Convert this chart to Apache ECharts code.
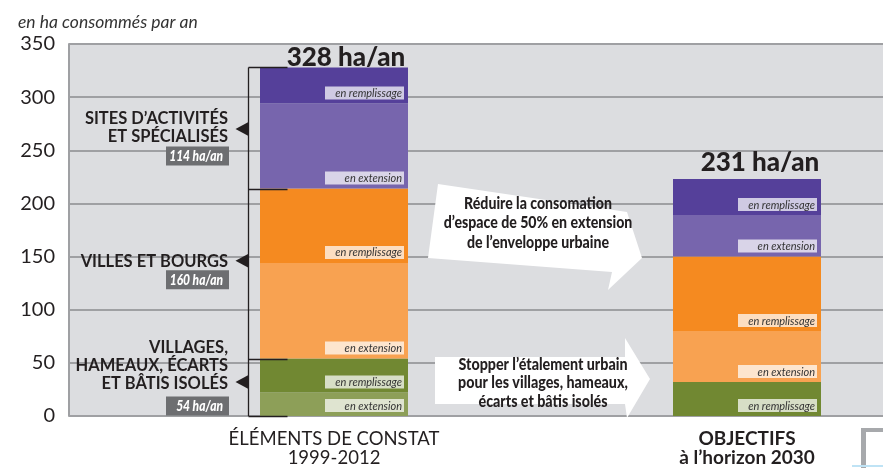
<!DOCTYPE html>
<html>
<head>
<meta charset="utf-8">
<script src="https://cdn.jsdelivr.net/npm/echarts@6/dist/echarts.min.js"></script>
<style>
html, body { margin: 0; padding: 0; background: #fff; }
#chart { width: 883px; height: 468px; }
</style>
</head>
<body>
<div id="chart"></div>
<script>
// --- data (stack order: bottom -> top) ---
const categories = ['ÉLÉMENTS DE CONSTAT|1999-2012', 'OBJECTIFS|à l’horizon 2030'];
const yTicks = [0, 50, 100, 150, 200, 250, 300, 350];
const villagesExtension = [22, 0];
const villagesRemplissage = [32, 32];
const villesExtension = [90, 48];
const villesRemplissage = [70, 70];
const sitesExtension = [80, 39];
const sitesRemplissage = [34, 34];
const totals = ['328 ha/an', '231 ha/an'];
const groupNames = ['SITES D’ACTIVITÉS\nET SPÉCIALISÉS', 'VILLES ET BOURGS', 'VILLAGES,\nHAMEAUX, ÉCARTS\nET BÂTIS ISOLÉS'];
const groupTotals = ['114 ha/an', '160 ha/an', '54 ha/an'];
const groupMarkers = [270, 146, 32];

const FONT = 'Lato, "Noto Sans", sans-serif';
const DARK = '#231f20';

const layers = [
  { name: 'Villages en extension', data: villagesExtension, color: '#8d9f58', text: 'en extension' },
  { name: 'Villages en remplissage', data: villagesRemplissage, color: '#718832', text: 'en remplissage' },
  { name: 'Villes en extension', data: villesExtension, color: '#f8a251', text: 'en extension' },
  { name: 'Villes en remplissage', data: villesRemplissage, color: '#f58a20', text: 'en remplissage' },
  { name: 'Sites en extension', data: sitesExtension, color: '#7765ad', text: 'en extension' },
  { name: 'Sites en remplissage', data: sitesRemplissage, color: '#55409a', text: 'en remplissage' }
];

const chart = echarts.init(document.getElementById('chart'));

const series = layers.map(l => ({
  name: l.name,
  type: 'bar',
  stack: 'conso',
  xAxisIndex: 1,
  yAxisIndex: 1,
  barWidth: 148,
  clip: false,
  silent: true,
  itemStyle: { color: l.color },
  label: {
    show: true,
    position: 'insideBottomRight',
    distance: 4,
    formatter: l.text,
    fontFamily: FONT,
    fontStyle: 'italic',
    fontSize: 11,
    color: '#333',
    backgroundColor: 'rgba(255,255,255,0.72)',
    width: 75,
    align: 'right',
    padding: [1, 2, 0, 2],
    lineHeight: 12
  },
  data: l.data.map(v => v > 0 ? v : { value: v, label: { show: false } })
}));

series.push({
  name: 'total',
  type: 'bar',
  stack: 'conso',
  xAxisIndex: 1,
  yAxisIndex: 1,
  barWidth: 148,
  clip: false,
  silent: true,
  itemStyle: { color: 'transparent' },
  label: {
    show: true,
    position: 'top',
    distance: 2,
    formatter: p => totals[p.dataIndex],
    fontFamily: FONT,
    fontWeight: 900,
    fontSize: 26,
    color: DARK
  },
  data: [
    { value: 0, label: { offset: [12, 5] } },
    { value: 0, label: { offset: [13, -1] } }
  ]
});

// bar centres sit on the two ends of the category axis (boundaryGap false)
chart.setOption({
  animation: false,
  backgroundColor: '#fff',
  title: {
    text: 'en ha consommés par an',
    left: 13,
    top: 8,
    textStyle: { fontFamily: FONT, fontStyle: 'italic', fontWeight: 'normal', fontSize: 17.5, color: '#333' }
  },
  grid: [
    { left: 69, right: 0, top: 44, bottom: 52, show: true, backgroundColor: '#dcdde0', borderWidth: 0 },
    { left: 334, right: 136, top: 44, bottom: 52 }
  ],
  xAxis: [
    { gridIndex: 0, type: 'value', show: false, min: 0, max: 1 },
    {
      gridIndex: 1,
      type: 'category',
      data: categories,
      boundaryGap: false,
      axisLine: { show: false },
      axisTick: { show: false },
      splitLine: { show: false },
      axisLabel: {
        margin: 14,
        interval: 0,
        formatter: (v, i) => {
          const [a, b] = v.split('|');
          const s = i === 0 ? 'r' : 'b';
          return '{' + s + '|' + a + '}\n{' + s + '|' + b + '}';
        },
        rich: {
          r: { fontFamily: FONT, fontSize: 18.5, color: DARK, lineHeight: 18.5 },
          b: { fontFamily: FONT, fontSize: 19, fontWeight: 'bold', color: DARK, lineHeight: 18.5 }
        }
      }
    }
  ],
  yAxis: [
    {
      gridIndex: 0,
      type: 'value',
      min: yTicks[0],
      max: yTicks[yTicks.length - 1],
      interval: 50,
      axisLine: { show: true, lineStyle: { color: '#9fa0a3', width: 2 } },
      axisTick: { show: false },
      splitLine: { lineStyle: { color: '#9fa0a3', width: 2 } },
      axisLabel: { margin: 14, fontFamily: FONT, fontSize: 20, color: DARK, padding: [0, 0, 7, 0] }
    },
    { gridIndex: 1, type: 'value', min: 0, max: 350, show: false }
  ],
  series: series
});

// annotations placed through the chart's own scales
const px = (cat, val) => chart.convertToPixel({ xAxisIndex: 1, yAxisIndex: 1 }, [cat, val]);
let cum = 0;
const bounds = [0];
[[villagesExtension, villagesRemplissage], [villesExtension, villesRemplissage], [sitesExtension, sitesRemplissage]].forEach(g => {
  cum += g[0][0] + g[1][0];
  bounds.push(cum);
});
const barLeft = px(0, 0)[0] - 74;
const bx = Math.round(barLeft - 12) + 0.5;
const graphics = [];
graphics.push({
  type: 'line', z: 100,
  shape: { x1: bx, y1: px(0, bounds[3])[1], x2: bx, y2: px(0, 0)[1] },
  style: { stroke: DARK, lineWidth: 1.3 }
});
bounds.forEach(b => {
  const y = Math.round(px(0, b)[1]) + 0.5;
  graphics.push({
    type: 'line', z: 100,
    shape: { x1: bx, y1: y, x2: bx + 39, y2: y },
    style: { stroke: DARK, lineWidth: 1.3 }
  });
});
const textOff = [-1, 1, -16];
const boxOff = [27, 19, 24];
groupMarkers.forEach((m, i) => {
  const y = px(0, m)[1];
  graphics.push({
    type: 'polygon', z: 100,
    shape: { points: [[bx - 13, y], [bx, y - 7], [bx, y + 7]] },
    style: { fill: DARK }
  });
  graphics.push({
    type: 'text', z: 100,
    x: 228, y: y + textOff[i],
    style: {
      text: groupNames[i], align: 'right', verticalAlign: 'middle',
      fontFamily: FONT, fontWeight: 'bold', fontSize: 16.5, lineHeight: 18, fill: DARK
    }
  });
  graphics.push({
    type: 'rect', z: 100,
    shape: { x: 166, y: y + boxOff[i] - 9.5, width: 63, height: 19 },
    style: { fill: '#6d6e71' }
  });
  graphics.push({
    type: 'text', z: 101,
    x: 223, y: y + boxOff[i], scaleX: 0.8,
    style: {
      text: groupTotals[i], align: 'right', verticalAlign: 'middle',
      fontFamily: FONT, fontStyle: 'italic', fontWeight: 900, fontSize: 15, fill: '#fff'
    }
  });
});

// white arrows with messages
graphics.push({
  type: 'polygon', z: 90,
  shape: { points: [[438, 184], [627, 212], [642, 258], [608, 290], [612, 272], [428, 258]] },
  style: { fill: '#fff' }
});
graphics.push({
  type: 'text', z: 101, x: 538, y: 223, scaleX: 0.83,
  style: {
    text: 'Réduire la consomation\nd’espace de 50% en extension\nde l’enveloppe urbaine',
    align: 'center', verticalAlign: 'middle',
    fontFamily: FONT, fontWeight: 900, fontSize: 17, lineHeight: 19.5, fill: DARK
  }
});
graphics.push({
  type: 'polygon', z: 90,
  shape: { points: [[435, 357], [625, 357], [625, 338], [650, 379], [627, 418], [625, 404], [435, 404]] },
  style: { fill: '#fff' }
});
graphics.push({
  type: 'text', z: 101, x: 543, y: 383, scaleX: 0.84,
  style: {
    text: 'Stopper l’étalement urbain\npour les villages, hameaux,\nécarts et bâtis isolés',
    align: 'center', verticalAlign: 'middle',
    fontFamily: FONT, fontWeight: 900, fontSize: 17, lineHeight: 18.5, fill: DARK
  }
});

// cropped frame corner at bottom right
graphics.push({ type: 'rect', shape: { x: 861, y: 428, width: 5, height: 40 }, style: { fill: '#a7a9ac' } });
graphics.push({ type: 'rect', shape: { x: 861, y: 428, width: 22, height: 4 }, style: { fill: '#a7a9ac' } });
graphics.push({ type: 'rect', shape: { x: 852, y: 465, width: 31, height: 2 }, style: { fill: '#bfe3f5' } });

chart.setOption({ graphic: graphics });
</script>
</body>
</html>
